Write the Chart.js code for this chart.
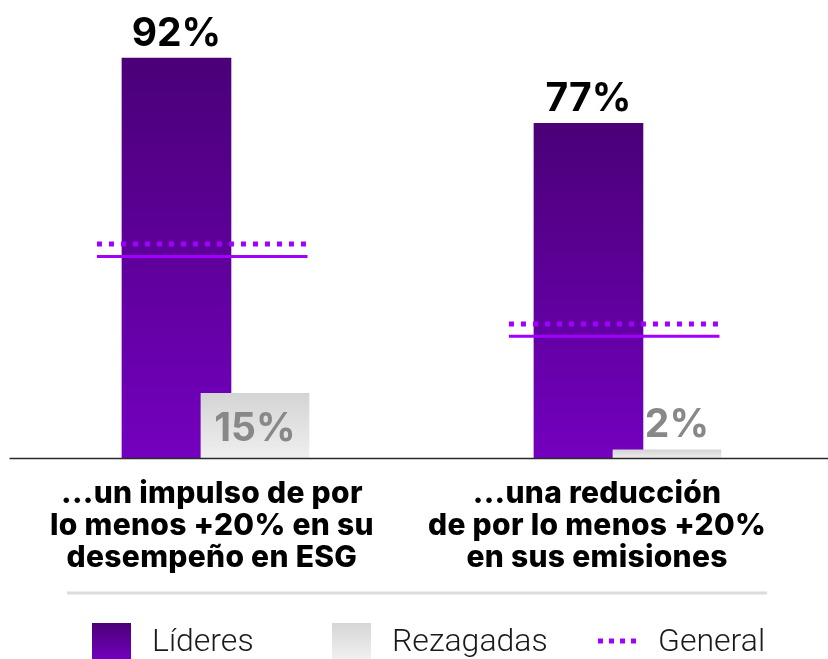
<!DOCTYPE html>
<html>
<head>
<meta charset="utf-8">
<script src="https://cdn.jsdelivr.net/npm/chart.js@4"></script>
<style>
  html, body { margin: 0; padding: 0; background: #fff; }
  #wrap { width: 828px; height: 659px; position: relative; }
</style>
</head>
<body>
<div id="wrap"><canvas id="grafico" width="828" height="659"></canvas></div>
<script>
// datos
const categorias = [
  ["...un impulso de por", "lo menos +20% en su", "desempeño en ESG"],
  ["...una reducción", "de por lo menos +20%", "en sus emisiones"]
];
const lideres = [92, 77];
const rezagadas = [15, 2];
const general = [49.3, 30.9];
const generalBase = [46.4, 28.1];
const nombres = ["Líderes", "Rezagadas", "General"];

const FUENTE_BOLD = "Inter, Roboto, sans-serif";
const FUENTE = "Roboto, 'Liberation Sans', sans-serif";

// posiciones dentro de cada grupo (en unidades de categoria)
const offLideres = 0;
const offRezagadas = 0.1905;
const lineaDesde = -0.193;
const lineaHasta = 0.318;
const offTexto = [0.086, 0.021];

function puntosLinea(valores) {
  const pts = [];
  valores.forEach(function(v, i) {
    pts.push({ x: i + lineaDesde, y: v });
    pts.push({ x: i + lineaHasta, y: v });
    pts.push({ x: i + 0.5, y: null });
  });
  return pts;
}

function degradado(ctx, y0, y1, c0, c1) {
  const g = ctx.createLinearGradient(0, y0, 0, y1);
  g.addColorStop(0, c0);
  g.addColorStop(1, c1);
  return g;
}

function rellenoBarra(c0, c1) {
  return function(context) {
    const chart = context.chart;
    if (!chart.chartArea || !chart.scales.y || !context.raw) return c0;
    const yTop = chart.scales.y.getPixelForValue(context.raw.y);
    const yBot = chart.scales.y.getPixelForValue(0);
    if (!isFinite(yTop) || yBot - yTop < 1) return c1;
    return degradado(chart.ctx, yTop, yBot, c0, c1);
  };
}

const etiquetas = {
  id: "etiquetas",
  afterDatasetsDraw: function(chart) {
    const ctx = chart.ctx;
    const area = chart.chartArea;
    const x = chart.scales.x;
    const y = chart.scales.y;

    // linea base
    ctx.save();
    ctx.strokeStyle = "#2a2a2a";
    ctx.lineWidth = 1.6;
    ctx.beginPath();
    ctx.moveTo(area.left, area.bottom);
    ctx.lineTo(828, area.bottom);
    ctx.stroke();

    // valores
    ctx.font = "bold 39px " + FUENTE_BOLD;
    ctx.textAlign = "center";
    ctx.textBaseline = "alphabetic";
    lideres.forEach(function(v, i) {
      const px = x.getPixelForValue(i + offLideres);
      const py = y.getPixelForValue(v);
      ctx.fillStyle = "#000";
      ctx.fillText(v + "%", px, py - 12);
    });
    rezagadas.forEach(function(v, i) {
      const px = x.getPixelForValue(i + offRezagadas);
      const py = y.getPixelForValue(v);
      ctx.fillStyle = "#888888";
      if (area.bottom - py > 50) {
        ctx.fillText(v + "%", px, py + 48);
      } else {
        ctx.fillText(v + "%", px + 10, py - 13);
      }
    });

    // categorias
    ctx.font = "800 30px " + FUENTE_BOLD;
    ctx.letterSpacing = "0.3px";
    ctx.fillStyle = "#000";
    categorias.forEach(function(lineas, i) {
      const px = x.getPixelForValue(i + offTexto[i]);
      lineas.forEach(function(t, k) {
        ctx.fillText(t, px, area.bottom + 44.5 + k * 32);
      });
    });
    ctx.letterSpacing = "0px";

    // separador
    ctx.strokeStyle = "#dcdcdc";
    ctx.lineWidth = 3;
    ctx.beginPath();
    ctx.moveTo(67, 593);
    ctx.lineTo(767, 593);
    ctx.stroke();

    // leyenda
    ctx.font = "300 32px " + FUENTE;
    ctx.textAlign = "left";
    ctx.fillStyle = degradado(ctx, 623, 659, "#4b0076", "#7200be");
    ctx.fillRect(92, 623, 39, 36);
    ctx.fillStyle = degradado(ctx, 623, 659, "#d6d6d6", "#f0f0f0");
    ctx.fillRect(332, 623, 39, 36);
    ctx.strokeStyle = "#a100ff";
    ctx.lineWidth = 5;
    ctx.setLineDash([5, 6]);
    ctx.beginPath();
    ctx.moveTo(598, 641);
    ctx.lineTo(638, 641);
    ctx.stroke();
    ctx.setLineDash([]);
    ctx.fillStyle = "#1a1a1a";
    ctx.fillText(nombres[0], 152, 651);
    ctx.fillText(nombres[1], 392, 651);
    ctx.fillText(nombres[2], 658, 651);
    ctx.restore();
  }
};

const ctx = document.querySelector("#grafico");
const grafico = new Chart(ctx, {
  type: "bar",
  data: {
    datasets: [
      {
        label: nombres[0],
        data: lideres.map(function(v, i) { return { x: i + offLideres, y: v }; }),
        backgroundColor: rellenoBarra("#4a0077", "#7300bf"),
        barThickness: 109,
        grouped: false,
        order: 3
      },
      {
        label: nombres[1],
        data: rezagadas.map(function(v, i) { return { x: i + offRezagadas, y: v }; }),
        backgroundColor: rellenoBarra("#d4d4d4", "#efefef"),
        barThickness: 108,
        grouped: false,
        order: 2
      },
      {
        type: "line",
        label: nombres[2],
        data: puntosLinea(general),
        borderColor: "#a100ff",
        borderWidth: 5,
        borderDash: [5, 7],
        borderCapStyle: "butt",
        pointRadius: 0,
        spanGaps: false,
        order: 1
      },
      {
        type: "line",
        label: "",
        data: puntosLinea(generalBase),
        borderColor: "#a100ff",
        borderWidth: 3,
        pointRadius: 0,
        spanGaps: false,
        order: 1
      }
    ]
  },
  options: {
    responsive: false,
    animation: false,
    events: [],
    layout: { padding: { left: 9.5, right: 0, top: 23.2, bottom: 200.5 } },
    plugins: {
      legend: { display: false },
      tooltip: { enabled: false }
    },
    scales: {
      x: {
        type: "linear",
        offset: false,
        min: -0.4053,
        max: 1.5814,
        display: false
      },
      y: {
        min: 0,
        max: 100,
        display: false
      }
    }
  },
  plugins: [etiquetas]
});
</script>
</body>
</html>
